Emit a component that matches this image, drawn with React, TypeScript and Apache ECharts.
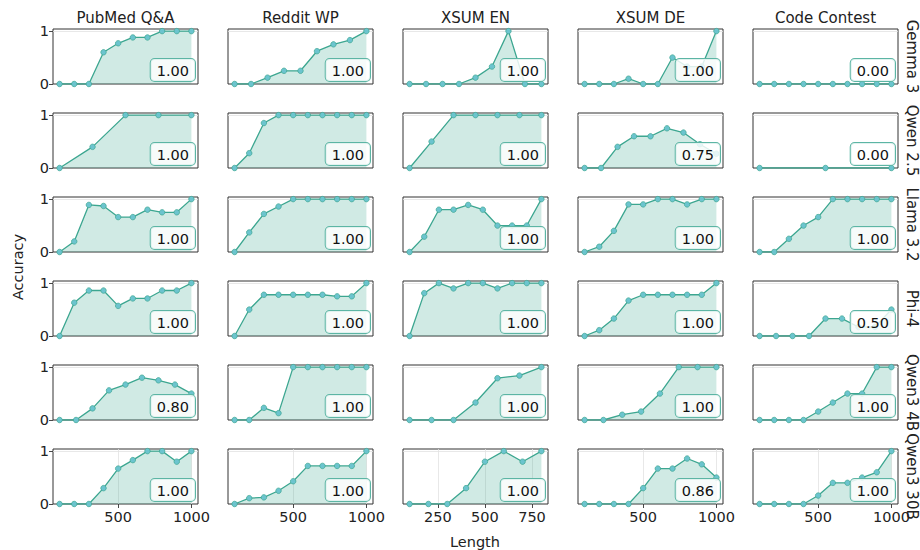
import React, { useEffect, useRef } from "react";
import * as echarts from "echarts";

// ---- data ----
const tasks = ["PubMed Q&A", "Reddit WP", "XSUM EN", "XSUM DE", "Code Contest"];
const models = ["Gemma 3", "Qwen 2.5", "Llama 3.2", "Phi-4", "Qwen3 4B", "Qwen3 30B"];

// length grids (x values)
const x10 = [100, 200, 300, 400, 500, 600, 700, 800, 900, 1000];
const x9 = [100, 212.5, 325, 437.5, 550, 662.5, 775, 887.5, 1000];
const x8 = [100, 228.6, 357.1, 485.7, 614.3, 742.9, 871.4, 1000];
const x5 = [100, 325, 550, 775, 1000];
const x3 = [100, 550, 1000];
const enX10 = [100, 177.8, 255.6, 333.3, 411.1, 488.9, 566.7, 644.4, 722.2, 800];
const enX9 = [100, 187.5, 275, 362.5, 450, 537.5, 625, 712.5, 800];
const enX8 = [100, 200, 300, 400, 500, 600, 700, 800];
const enX7 = [100, 216.7, 333.3, 450, 566.7, 683.3, 800];

// accuracy per model, one list per task (PubMed, Reddit, XSUM EN, XSUM DE, Code)
const gemma3X = [x10, x9, enX9, x10, x10];
const gemma3Y = [
  [0, 0, 0, 0.6, 0.77, 0.88, 0.88, 1, 1, 1],
  [0, 0, 0.12, 0.25, 0.25, 0.62, 0.75, 0.83, 1],
  [0, 0, 0, 0, 0.12, 0.33, 1, 0, 0],
  [0, 0, 0, 0.1, 0, 0, 0.5, 0.33, 0.33, 1],
  [0, 0, 0, 0, 0, 0, 0, 0, 0, 0],
];
const qwen25X = [x5, x10, enX7, x9, x3];
const qwen25Y = [
  [0, 0.4, 1, 1, 1],
  [0, 0.28, 0.85, 1, 1, 1, 1, 1, 1, 1],
  [0, 0.5, 1, 1, 1, 1, 1],
  [0, 0, 0.4, 0.6, 0.6, 0.75, 0.67, 0.45, 0.27],
  [0, 0, 0],
];
const llama32X = [x10, x10, enX10, x10, x10];
const llama32Y = [
  [0, 0.2, 0.89, 0.87, 0.66, 0.66, 0.8, 0.75, 0.75, 1],
  [0, 0.37, 0.72, 0.86, 1, 1, 1, 1, 1, 1],
  [0, 0.29, 0.8, 0.8, 0.89, 0.8, 0.5, 0.5, 0.5, 1],
  [0, 0.1, 0.4, 0.9, 0.9, 1, 1, 0.9, 1, 1],
  [0, 0, 0.25, 0.5, 0.66, 1, 1, 1, 1, 1],
];
const phi4X = [x10, x10, enX10, x10, x9];
const phi4Y = [
  [0, 0.63, 0.86, 0.86, 0.57, 0.71, 0.71, 0.86, 0.86, 1],
  [0, 0.5, 0.78, 0.78, 0.78, 0.78, 0.78, 0.75, 0.75, 1],
  [0, 0.81, 1, 0.9, 1, 1, 0.9, 1, 1, 1],
  [0, 0.11, 0.33, 0.67, 0.78, 0.78, 0.78, 0.78, 0.78, 1],
  [0, 0, 0, 0, 0.33, 0.33, 0.17, 0.17, 0.5],
];
const qwen3_4bX = [x9, x10, enX7, x8, x10];
const qwen3_4bY = [
  [0, 0, 0.22, 0.56, 0.67, 0.8, 0.75, 0.67, 0.5],
  [0, 0, 0.23, 0.13, 1, 1, 1, 1, 1, 1],
  [0, 0, 0, 0.33, 0.79, 0.84, 1],
  [0, 0, 0.1, 0.16, 0.5, 1, 1, 1],
  [0, 0, 0, 0, 0.16, 0.33, 0.5, 0.5, 1, 1],
];
const qwen3_30bX = [x10, x10, enX8, x10, x10];
const qwen3_30bY = [
  [0, 0, 0, 0.3, 0.67, 0.83, 1, 1, 0.8, 1],
  [0, 0.11, 0.125, 0.25, 0.43, 0.72, 0.72, 0.72, 0.72, 1],
  [0, 0, 0, 0.3, 0.8, 1, 0.8, 1],
  [0, 0, 0, 0, 0.3, 0.67, 0.67, 0.86, 0.75, 0.5],
  [0, 0, 0, 0, 0.16, 0.4, 0.4, 0.5, 0.6, 1],
];

// score shown in each panel's box
const scores = [
  [1.0, 1.0, 1.0, 1.0, 0.0],
  [1.0, 1.0, 1.0, 0.75, 0.0],
  [1.0, 1.0, 1.0, 1.0, 1.0],
  [1.0, 1.0, 1.0, 1.0, 0.5],
  [0.8, 1.0, 1.0, 1.0, 1.0],
  [1.0, 1.0, 1.0, 0.86, 1.0],
];

// x-axis tick labels per task
const xTicks = [[500, 1000], [500, 1000], [250, 500, 750], [500, 1000], [500, 1000]];
const xRanges = [[55, 1045], [55, 1045], [65, 835], [55, 1045], [55, 1045]];
const yTicks = [0, 1];

const allX = [gemma3X, qwen25X, llama32X, phi4X, qwen3_4bX, qwen3_30bX];
const allY = [gemma3Y, qwen25Y, llama32Y, phi4Y, qwen3_4bY, qwen3_30bY];

// ---- layout / style ----
const FONT = '"DejaVu Sans", sans-serif';
const L0 = 53, CW = 145, CS = 175;
const T0 = 29, RH = 55, RS = 84;
const LINE = "#3ca690";
const MARK = "#6cc4ce";

export default function App() {
  const ref = useRef<HTMLDivElement>(null);
  useEffect(() => {
    if (!ref.current) return;
    const chart = echarts.init(ref.current, undefined, { renderer: "svg" });
    const grid: any[] = [];
    const xAxis: any[] = [];
    const yAxis: any[] = [];
    const series: any[] = [];
    const graphic: any[] = [];

    for (let r = 0; r < models.length; r++) {
      for (let c = 0; c < tasks.length; c++) {
        const idx = r * tasks.length + c;
        const left = L0 + c * CS;
        const top = T0 + r * RS;
        const last = r === models.length - 1;
        grid.push({
          left, top, width: CW, height: RH,
          show: true, borderColor: "#333", borderWidth: 1, backgroundColor: "transparent",
        });
        xAxis.push({
          gridIndex: idx, type: "value", min: xRanges[c][0], max: xRanges[c][1],
          axisLine: { show: false },
          splitLine: { show: false },
          axisTick: { show: last, customValues: xTicks[c], length: 4, lineStyle: { color: "#333", width: 0.9 } },
          axisLabel: {
            show: last, customValues: xTicks[c], fontSize: 14.5, fontFamily: FONT, color: "#222", margin: 5,
            formatter: (v: number) => String(v),
          },
        });
        yAxis.push({
          gridIndex: idx, type: "value", min: 0, max: 1.04,
          axisLine: { show: false },
          splitLine: { show: false },
          axisTick: { show: c === 0, customValues: yTicks, length: 4, lineStyle: { color: "#333", width: 0.9 } },
          axisLabel: { show: c === 0, customValues: yTicks, fontSize: 14.5, fontFamily: FONT, color: "#222", margin: 4 },
        });
        const xs = allX[r][c];
        const ys = allY[r][c];
        const markData: any[] = [{ yAxis: 1 }];
        if (last) xTicks[c].forEach((v) => markData.push({ xAxis: v }));
        series.push({
          type: "line",
          xAxisIndex: idx, yAxisIndex: idx,
          data: xs.map((x, i) => [x, ys[i]]),
          symbol: "circle", symbolSize: 5.5,
          lineStyle: { color: LINE, width: 1.3 },
          itemStyle: { color: MARK, borderColor: LINE, borderWidth: 0.7 },
          areaStyle: { color: "rgba(60,166,144,0.24)", opacity: 1 },
          markLine: {
            silent: true, symbol: "none", label: { show: false },
            lineStyle: { color: "#e2e2e2", width: 0.8, type: "solid" },
            data: markData,
            z: 1,
          },
          z: 2,
        });
        graphic.push({
          type: "text", z: 100,
          style: {
            text: scores[r][c].toFixed(2),
            x: left + CW - 3, y: top + RH - 3,
            align: "right", verticalAlign: "bottom",
            font: `14.5px ${FONT}`, fill: "#111",
            backgroundColor: "rgba(255,255,255,0.82)",
            borderColor: "#5cb5a4", borderWidth: 1, borderRadius: 4,
            padding: [4, 6, 3, 6],
          },
        });
      }
      // row label on the right
      graphic.push({
        type: "text", x: 912, y: T0 + r * RS + RH / 2, rotation: -Math.PI / 2, z: 100,
        style: { text: models[r], align: "center", verticalAlign: "middle", font: `15px ${FONT}`, fill: "#222" },
      });
    }
    tasks.forEach((t, c) => {
      graphic.push({
        type: "text", z: 100,
        style: { text: t, x: L0 + c * CS + CW / 2, y: 18, align: "center", verticalAlign: "middle", font: `15px ${FONT}`, fill: "#222" },
      });
    });
    graphic.push({
      type: "text", x: 18, y: 267, rotation: Math.PI / 2, z: 100,
      style: { text: "Accuracy", align: "center", verticalAlign: "middle", font: `14.5px ${FONT}`, fill: "#222" },
    });
    graphic.push({
      type: "text", z: 100,
      style: { text: "Length", x: 475, y: 542, align: "center", verticalAlign: "middle", font: `14.5px ${FONT}`, fill: "#222" },
    });

    chart.setOption({
      animation: false,
      backgroundColor: "#fff",
      grid, xAxis, yAxis, series, graphic,
    });
    return () => chart.dispose();
  }, []);
  return <div ref={ref} style={{ position: "absolute", left: 0, top: 0, width: 920, height: 550 }} />;
}
